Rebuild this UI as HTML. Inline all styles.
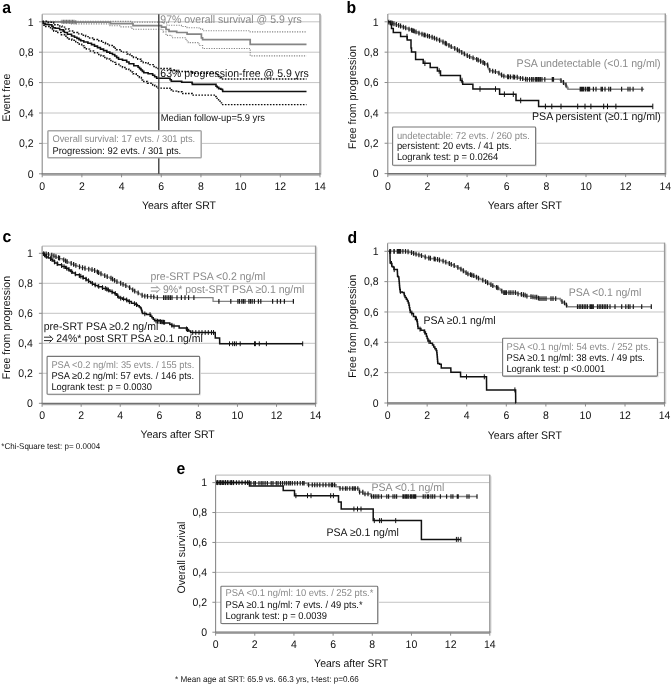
<!DOCTYPE html>
<html><head><meta charset="utf-8"><title>Kaplan-Meier figure</title>
<style>
html,body{margin:0;padding:0;background:#fff;}
body{width:672px;height:685px;overflow:hidden;}
svg{display:block;font-family:"Liberation Sans",sans-serif;text-rendering:geometricPrecision;will-change:transform;}
</style></head>
<body>
<svg width="672" height="685" viewBox="0 0 672 685">
<rect width="672" height="685" fill="#fff"/>
<line x1="42.2" y1="143.4" x2="320" y2="143.4" stroke="#c4c4c4" stroke-width="1" />
<line x1="42.2" y1="113" x2="320" y2="113" stroke="#c4c4c4" stroke-width="1" />
<line x1="42.2" y1="82.6" x2="320" y2="82.6" stroke="#c4c4c4" stroke-width="1" />
<line x1="42.2" y1="52.2" x2="320" y2="52.2" stroke="#c4c4c4" stroke-width="1" />
<line x1="42.2" y1="21.8" x2="320" y2="21.8" stroke="#c4c4c4" stroke-width="1" />
<line x1="42.2" y1="14.2" x2="320" y2="14.2" stroke="#c4c4c4" stroke-width="1.2" />
<line x1="321.2" y1="15.2" x2="321.2" y2="174.8" stroke="#dedede" stroke-width="1.2" />
<line x1="320" y1="13.7" x2="320" y2="173.8" stroke="#9a9a9a" stroke-width="1.4" />
<line x1="42.2" y1="14.2" x2="42.2" y2="174.3" stroke="#8a8a8a" stroke-width="1.1" />
<line x1="39" y1="173.8" x2="42.2" y2="173.8" stroke="#8a8a8a" stroke-width="1" />
<line x1="39" y1="143.4" x2="42.2" y2="143.4" stroke="#8a8a8a" stroke-width="1" />
<line x1="39" y1="113" x2="42.2" y2="113" stroke="#8a8a8a" stroke-width="1" />
<line x1="39" y1="82.6" x2="42.2" y2="82.6" stroke="#8a8a8a" stroke-width="1" />
<line x1="39" y1="52.2" x2="42.2" y2="52.2" stroke="#8a8a8a" stroke-width="1" />
<line x1="39" y1="21.8" x2="42.2" y2="21.8" stroke="#8a8a8a" stroke-width="1" />
<line x1="42.2" y1="175.1" x2="320" y2="175.1" stroke="#a8a8a8" stroke-width="1.1" />
<line x1="41.7" y1="173.8" x2="320.7" y2="173.8" stroke="#707070" stroke-width="1.3" />
<line x1="42.2" y1="173.8" x2="42.2" y2="177.3" stroke="#8a8a8a" stroke-width="1" />
<line x1="81.89" y1="173.8" x2="81.89" y2="177.3" stroke="#8a8a8a" stroke-width="1" />
<line x1="121.57" y1="173.8" x2="121.57" y2="177.3" stroke="#8a8a8a" stroke-width="1" />
<line x1="161.26" y1="173.8" x2="161.26" y2="177.3" stroke="#8a8a8a" stroke-width="1" />
<line x1="200.94" y1="173.8" x2="200.94" y2="177.3" stroke="#8a8a8a" stroke-width="1" />
<line x1="240.63" y1="173.8" x2="240.63" y2="177.3" stroke="#8a8a8a" stroke-width="1" />
<line x1="280.31" y1="173.8" x2="280.31" y2="177.3" stroke="#8a8a8a" stroke-width="1" />
<line x1="320" y1="173.8" x2="320" y2="177.3" stroke="#8a8a8a" stroke-width="1" />
<line x1="387.8" y1="143.24" x2="665.3" y2="143.24" stroke="#c4c4c4" stroke-width="1" />
<line x1="387.8" y1="112.88" x2="665.3" y2="112.88" stroke="#c4c4c4" stroke-width="1" />
<line x1="387.8" y1="82.52" x2="665.3" y2="82.52" stroke="#c4c4c4" stroke-width="1" />
<line x1="387.8" y1="52.16" x2="665.3" y2="52.16" stroke="#c4c4c4" stroke-width="1" />
<line x1="387.8" y1="21.8" x2="665.3" y2="21.8" stroke="#c4c4c4" stroke-width="1" />
<line x1="387.8" y1="14" x2="665.3" y2="14" stroke="#c4c4c4" stroke-width="1.2" />
<line x1="666.5" y1="15" x2="666.5" y2="174.6" stroke="#dedede" stroke-width="1.2" />
<line x1="665.3" y1="13.5" x2="665.3" y2="173.6" stroke="#9a9a9a" stroke-width="1.4" />
<line x1="387.8" y1="14" x2="387.8" y2="174.1" stroke="#8a8a8a" stroke-width="1.1" />
<line x1="384.6" y1="173.6" x2="387.8" y2="173.6" stroke="#8a8a8a" stroke-width="1" />
<line x1="384.6" y1="143.24" x2="387.8" y2="143.24" stroke="#8a8a8a" stroke-width="1" />
<line x1="384.6" y1="112.88" x2="387.8" y2="112.88" stroke="#8a8a8a" stroke-width="1" />
<line x1="384.6" y1="82.52" x2="387.8" y2="82.52" stroke="#8a8a8a" stroke-width="1" />
<line x1="384.6" y1="52.16" x2="387.8" y2="52.16" stroke="#8a8a8a" stroke-width="1" />
<line x1="384.6" y1="21.8" x2="387.8" y2="21.8" stroke="#8a8a8a" stroke-width="1" />
<line x1="387.8" y1="174.9" x2="665.3" y2="174.9" stroke="#a8a8a8" stroke-width="1.1" />
<line x1="387.3" y1="173.6" x2="666" y2="173.6" stroke="#707070" stroke-width="1.3" />
<line x1="387.8" y1="173.6" x2="387.8" y2="177.1" stroke="#8a8a8a" stroke-width="1" />
<line x1="427.44" y1="173.6" x2="427.44" y2="177.1" stroke="#8a8a8a" stroke-width="1" />
<line x1="467.09" y1="173.6" x2="467.09" y2="177.1" stroke="#8a8a8a" stroke-width="1" />
<line x1="506.73" y1="173.6" x2="506.73" y2="177.1" stroke="#8a8a8a" stroke-width="1" />
<line x1="546.37" y1="173.6" x2="546.37" y2="177.1" stroke="#8a8a8a" stroke-width="1" />
<line x1="586.01" y1="173.6" x2="586.01" y2="177.1" stroke="#8a8a8a" stroke-width="1" />
<line x1="625.66" y1="173.6" x2="625.66" y2="177.1" stroke="#8a8a8a" stroke-width="1" />
<line x1="665.3" y1="173.6" x2="665.3" y2="177.1" stroke="#8a8a8a" stroke-width="1" />
<line x1="42.1" y1="373.3" x2="315.6" y2="373.3" stroke="#c4c4c4" stroke-width="1" />
<line x1="42.1" y1="343.3" x2="315.6" y2="343.3" stroke="#c4c4c4" stroke-width="1" />
<line x1="42.1" y1="313.3" x2="315.6" y2="313.3" stroke="#c4c4c4" stroke-width="1" />
<line x1="42.1" y1="283.3" x2="315.6" y2="283.3" stroke="#c4c4c4" stroke-width="1" />
<line x1="42.1" y1="253.3" x2="315.6" y2="253.3" stroke="#c4c4c4" stroke-width="1" />
<line x1="42.1" y1="246.2" x2="315.6" y2="246.2" stroke="#c4c4c4" stroke-width="1.2" />
<line x1="316.8" y1="247.2" x2="316.8" y2="404.3" stroke="#dedede" stroke-width="1.2" />
<line x1="315.6" y1="245.7" x2="315.6" y2="403.3" stroke="#9a9a9a" stroke-width="1.4" />
<line x1="42.1" y1="246.2" x2="42.1" y2="403.8" stroke="#8a8a8a" stroke-width="1.1" />
<line x1="38.9" y1="403.3" x2="42.1" y2="403.3" stroke="#8a8a8a" stroke-width="1" />
<line x1="38.9" y1="373.3" x2="42.1" y2="373.3" stroke="#8a8a8a" stroke-width="1" />
<line x1="38.9" y1="343.3" x2="42.1" y2="343.3" stroke="#8a8a8a" stroke-width="1" />
<line x1="38.9" y1="313.3" x2="42.1" y2="313.3" stroke="#8a8a8a" stroke-width="1" />
<line x1="38.9" y1="283.3" x2="42.1" y2="283.3" stroke="#8a8a8a" stroke-width="1" />
<line x1="38.9" y1="253.3" x2="42.1" y2="253.3" stroke="#8a8a8a" stroke-width="1" />
<line x1="42.1" y1="404.6" x2="315.6" y2="404.6" stroke="#a8a8a8" stroke-width="1.1" />
<line x1="41.6" y1="403.3" x2="316.3" y2="403.3" stroke="#707070" stroke-width="1.3" />
<line x1="42.1" y1="403.3" x2="42.1" y2="406.8" stroke="#8a8a8a" stroke-width="1" />
<line x1="81.17" y1="403.3" x2="81.17" y2="406.8" stroke="#8a8a8a" stroke-width="1" />
<line x1="120.24" y1="403.3" x2="120.24" y2="406.8" stroke="#8a8a8a" stroke-width="1" />
<line x1="159.31" y1="403.3" x2="159.31" y2="406.8" stroke="#8a8a8a" stroke-width="1" />
<line x1="198.39" y1="403.3" x2="198.39" y2="406.8" stroke="#8a8a8a" stroke-width="1" />
<line x1="237.46" y1="403.3" x2="237.46" y2="406.8" stroke="#8a8a8a" stroke-width="1" />
<line x1="276.53" y1="403.3" x2="276.53" y2="406.8" stroke="#8a8a8a" stroke-width="1" />
<line x1="315.6" y1="403.3" x2="315.6" y2="406.8" stroke="#8a8a8a" stroke-width="1" />
<line x1="387.6" y1="372.66" x2="664.6" y2="372.66" stroke="#c4c4c4" stroke-width="1" />
<line x1="387.6" y1="342.32" x2="664.6" y2="342.32" stroke="#c4c4c4" stroke-width="1" />
<line x1="387.6" y1="311.98" x2="664.6" y2="311.98" stroke="#c4c4c4" stroke-width="1" />
<line x1="387.6" y1="281.64" x2="664.6" y2="281.64" stroke="#c4c4c4" stroke-width="1" />
<line x1="387.6" y1="251.3" x2="664.6" y2="251.3" stroke="#c4c4c4" stroke-width="1" />
<line x1="387.6" y1="243.2" x2="664.6" y2="243.2" stroke="#c4c4c4" stroke-width="1.2" />
<line x1="665.8" y1="244.2" x2="665.8" y2="404" stroke="#dedede" stroke-width="1.2" />
<line x1="664.6" y1="242.7" x2="664.6" y2="403" stroke="#9a9a9a" stroke-width="1.4" />
<line x1="387.6" y1="243.2" x2="387.6" y2="403.5" stroke="#8a8a8a" stroke-width="1.1" />
<line x1="384.4" y1="403" x2="387.6" y2="403" stroke="#8a8a8a" stroke-width="1" />
<line x1="384.4" y1="372.66" x2="387.6" y2="372.66" stroke="#8a8a8a" stroke-width="1" />
<line x1="384.4" y1="342.32" x2="387.6" y2="342.32" stroke="#8a8a8a" stroke-width="1" />
<line x1="384.4" y1="311.98" x2="387.6" y2="311.98" stroke="#8a8a8a" stroke-width="1" />
<line x1="384.4" y1="281.64" x2="387.6" y2="281.64" stroke="#8a8a8a" stroke-width="1" />
<line x1="384.4" y1="251.3" x2="387.6" y2="251.3" stroke="#8a8a8a" stroke-width="1" />
<line x1="387.6" y1="404.3" x2="664.6" y2="404.3" stroke="#a8a8a8" stroke-width="1.1" />
<line x1="387.1" y1="403" x2="665.3" y2="403" stroke="#707070" stroke-width="1.3" />
<line x1="387.6" y1="403" x2="387.6" y2="406.5" stroke="#8a8a8a" stroke-width="1" />
<line x1="427.17" y1="403" x2="427.17" y2="406.5" stroke="#8a8a8a" stroke-width="1" />
<line x1="466.74" y1="403" x2="466.74" y2="406.5" stroke="#8a8a8a" stroke-width="1" />
<line x1="506.31" y1="403" x2="506.31" y2="406.5" stroke="#8a8a8a" stroke-width="1" />
<line x1="545.89" y1="403" x2="545.89" y2="406.5" stroke="#8a8a8a" stroke-width="1" />
<line x1="585.46" y1="403" x2="585.46" y2="406.5" stroke="#8a8a8a" stroke-width="1" />
<line x1="625.03" y1="403" x2="625.03" y2="406.5" stroke="#8a8a8a" stroke-width="1" />
<line x1="664.6" y1="403" x2="664.6" y2="406.5" stroke="#8a8a8a" stroke-width="1" />
<line x1="215.6" y1="602.28" x2="489.8" y2="602.28" stroke="#c4c4c4" stroke-width="1" />
<line x1="215.6" y1="572.36" x2="489.8" y2="572.36" stroke="#c4c4c4" stroke-width="1" />
<line x1="215.6" y1="542.44" x2="489.8" y2="542.44" stroke="#c4c4c4" stroke-width="1" />
<line x1="215.6" y1="512.52" x2="489.8" y2="512.52" stroke="#c4c4c4" stroke-width="1" />
<line x1="215.6" y1="482.6" x2="489.8" y2="482.6" stroke="#c4c4c4" stroke-width="1" />
<line x1="215.6" y1="475.2" x2="489.8" y2="475.2" stroke="#c4c4c4" stroke-width="1.2" />
<line x1="491" y1="476.2" x2="491" y2="633.2" stroke="#dedede" stroke-width="1.2" />
<line x1="489.8" y1="474.7" x2="489.8" y2="632.2" stroke="#9a9a9a" stroke-width="1.4" />
<line x1="215.6" y1="475.2" x2="215.6" y2="632.7" stroke="#8a8a8a" stroke-width="1.1" />
<line x1="212.4" y1="632.2" x2="215.6" y2="632.2" stroke="#8a8a8a" stroke-width="1" />
<line x1="212.4" y1="602.28" x2="215.6" y2="602.28" stroke="#8a8a8a" stroke-width="1" />
<line x1="212.4" y1="572.36" x2="215.6" y2="572.36" stroke="#8a8a8a" stroke-width="1" />
<line x1="212.4" y1="542.44" x2="215.6" y2="542.44" stroke="#8a8a8a" stroke-width="1" />
<line x1="212.4" y1="512.52" x2="215.6" y2="512.52" stroke="#8a8a8a" stroke-width="1" />
<line x1="212.4" y1="482.6" x2="215.6" y2="482.6" stroke="#8a8a8a" stroke-width="1" />
<line x1="215.6" y1="633.5" x2="489.8" y2="633.5" stroke="#a8a8a8" stroke-width="1.1" />
<line x1="215.1" y1="632.2" x2="490.5" y2="632.2" stroke="#707070" stroke-width="1.3" />
<line x1="215.6" y1="632.2" x2="215.6" y2="635.7" stroke="#8a8a8a" stroke-width="1" />
<line x1="254.77" y1="632.2" x2="254.77" y2="635.7" stroke="#8a8a8a" stroke-width="1" />
<line x1="293.94" y1="632.2" x2="293.94" y2="635.7" stroke="#8a8a8a" stroke-width="1" />
<line x1="333.11" y1="632.2" x2="333.11" y2="635.7" stroke="#8a8a8a" stroke-width="1" />
<line x1="372.29" y1="632.2" x2="372.29" y2="635.7" stroke="#8a8a8a" stroke-width="1" />
<line x1="411.46" y1="632.2" x2="411.46" y2="635.7" stroke="#8a8a8a" stroke-width="1" />
<line x1="450.63" y1="632.2" x2="450.63" y2="635.7" stroke="#8a8a8a" stroke-width="1" />
<line x1="489.8" y1="632.2" x2="489.8" y2="635.7" stroke="#8a8a8a" stroke-width="1" />
<path d="M42.5 21.4H132V22.1H163.6V22.9H167V25.3H181.4V26.5H187.1V27.7H199V28.9H202.6V30.7H250.2V31.9H306.5V31.9" fill="none" stroke="#858585" stroke-width="1.1" stroke-dasharray="1.2 1.3"/>
<path d="M42.5 22.3H70V23.9H110V25.7H121V26.9H132V29.3H163V31.9H166V35.4H171.9V37.8H186V40.8H188.3V42.6H197.9V43.8H199V45.5H202.6V48.5H250.2V55.9H306.5V55.9" fill="none" stroke="#858585" stroke-width="1.1" stroke-dasharray="1.2 1.3"/>
<path d="M42.5 21.8H75V22.2H110.5V23.6H133V25.7H161.5V27.1H166V29.5H169V31.3H176.7V32.5H187.1V34.2H201.4V37.8H202.6V39.6H250.2V44.4H306.5V44.4" fill="none" stroke="#858585" stroke-width="1.7" />
<path d="M62 19.8V23.8M63.6 19.8V23.8M65 19.8V23.8M66.5 19.8V23.8M68 19.8V23.8M69.4 19.8V23.8M71 19.8V23.8M72.5 19.8V23.8M74 19.8V23.8M75.8 20.2V24.2" stroke="#6e6e6e" stroke-width="1.1" fill="none"/>
<path d="M42.5 21.3H47.2V22.3H51.9H53.7V24.7H55.5H57.85V25.9H60.2H62V27.1H63.8H65.3V28.9H66.8H69.15V31H71.5H73.6V32.5H75.7H77.68V33.87H81.65V35.23H85.62V36.6H87.6H89.58V38H93.55V39.4H97.52V40.8H99.5H101.48V42.37H105.45V43.93H109.42V45.5H111.4H112.35V46.9H114.25V48.3H116.15V49.7H117.1H121.3V52.1H125.5H126.97V53.9H129.93V55.7H131.4H133.5V57.45H137.7V59.2H139.8H140.98V61H143.32V62.8H144.5H148.1V64.6H151.7H153.17V66.55H156.12V68.5H157.6H169.5H170.75V70.2H172H176.7V71.4H181.4H192.5H192.75V73.3H193H215.7H216V74.8H216.3H217.8V76.6H219.3H220.05V77.8H221.55V79H222.3H306.5" fill="none" stroke="#111" stroke-width="1.45" stroke-dasharray="1.6 1.4"/>
<path d="M43 22.5H43.3V23.9H43.9V25.3H44.2H45.65V26.5H47.1H49.5V27.7H51.9H52.5V29.5H53.7V31.3H54.3H56.65V32.5H59H61.4V34.8H63.8H64.7V36.3H66.5V37.8H67.4H68.88V39H71.83V40.2H73.3H75.7V42.6H78.1H79.29V44.23H81.66V45.85H84.04V47.48H86.41V49.1H87.6H89.58V50.9H93.55V52.7H97.52V54.5H99.5H100.99V55.98H103.96V57.45H106.94V58.92H109.91V60.4H111.4H112.83V62.35H115.67V64.3H117.1H118.9V65.87H122.5V67.43H126.1V69H127.9H128.78V70.5H130.53V72H131.4H133V73.8H136.2V75.6H139.4V77.4H141H141.38V78.77H142.15V80.13H142.92V81.5H143.3H147.5V83.3H151.7H152.68V84.9H154.65V86.5H156.62V88.1H157.6H164.15V88.3H170.7H171V89.7H171.6V91.1H171.9H176.65V91.7H181.4H182V93.5H182.6H192H192.25V95.1H192.5H215.7H215.85V96.6H216.15V98.1H216.3H217.05V99.6H218.55V101.1H219.3H220.05V102.85H221.55V104.6H222.3H306.5" fill="none" stroke="#111" stroke-width="1.45" stroke-dasharray="1.6 1.4"/>
<path d="M42.5 21.8H43.35V23.5H44.2H45.1V24.4H46H48.65V24.7H51.3H51.9V26.2H53.1V27.7H53.7H55.2V28.3H56.7H59.65V29.8H62.6H63.2V31.15H64.4V32.5H65H67.4V34.2H69.8H71.55V36H73.3H74.5V37.2H76.9V38.4H78.1H79V39.6H80.8V40.8H81.7H83.78V42H87.92V43.2H90H91.5V44.65H94.5V46.1H96H97.47V47.6H100.43V49.1H101.9H103.55V50.6H106.85V52.1H108.5H109.83V53.3H112.47V54.5H113.8H114.75V56.07H116.65V57.63H118.55V59.2H119.5H122.5V60.3H125.5H126.67V62H129.02V63.7H130.2H133.8V65.8H137.4H138.11V67.2H139.53V68.6H140.95V70H142.37V71.4H143.79V72.8H144.5H148.1V73.8H151.7H152.68V75.3H154.65V76.8H156.62V78.3H157.6H169.5H170.1V79.75H171.3V81.2H171.9H181.4H181.7V82.2H182H191.9H192.05V83.3H192.35V84.4H192.5H215.7H216V86.2H216.3H217.2V87.4H218.1H218.7V88.6H219.3H220.8V89.2H222.3H222.45V90.35H222.75V91.5H222.9H306.5" fill="none" stroke="#111" stroke-width="1.6" />
<line x1="158.8" y1="14.2" x2="158.8" y2="173.8" stroke="#333" stroke-width="1.3" />
<text transform="translate(160.3 22.7) scale(1 1.05)" font-size="10.5" fill="#8a8a8a" text-anchor="start" font-weight="normal" >97% overall survival @ 5.9 yrs</text>
<text transform="translate(160.3 77) scale(1 1.05)" font-size="10.5" fill="#111" text-anchor="start" font-weight="normal" >63% progression-free @ 5.9 yrs</text>
<text transform="translate(160.8 121) scale(1 1.05)" font-size="9.35" fill="#111" text-anchor="start" font-weight="normal" >Median follow-up=5.9 yrs</text>
<rect x="47.9" y="130.8" width="153.3" height="27" fill="#fff" stroke="#a8a8a8" stroke-width="1.5" rx="0.8"/>
<text transform="translate(52.4 142.3) scale(1 1.05)" font-size="9.35" fill="#8a8a8a" text-anchor="start" font-weight="normal" >Overall survival: 17 evts. / 301 pts.</text>
<text transform="translate(52.4 153.5) scale(1 1.05)" font-size="9.35" fill="#111" text-anchor="start" font-weight="normal" >Progression: 92 evts. / 301 pts.</text>
<path d="M388 21.8H389.48V22.77H392.45V23.73H395.42V24.7H396.9H398.39V25.77H401.36V26.85H404.34V27.93H407.31V29H408.8H409.99V29.96H412.37V30.92H414.75V31.88H417.13V32.84H419.51V33.8H420.7H422.19V34.7H425.16V35.6H428.14V36.5H431.11V37.4H432.6H433.83V38.4H436.3V39.4H438.77V40.4H440H441V41.47H443V42.53H445V43.6H446H446.98V44.73H448.95V45.87H450.92V47H451.9H452.9V48H454.9V49H456.9V50H457.9H458.64V50.88H460.11V51.75H461.59V52.62H463.06V53.5H463.8H464.7V54.6H466.5V55.7H467.4H468.74V56.78H471.41V57.85H474.09V58.92H476.76V60H478.1H479.05V60.96H480.95V61.92H482.85V62.88H484.75V63.84H486.65V64.8H487.6H487.72V65.87H487.95V66.93H488.18V68H488.3H488.58V68.9H489.15V69.8H489.72V70.7H490H493.55V71.9H497.1H497.85V72.95H499.35V74H500.85V75.05H502.35V76.1H503.1H505.85V76.9H508.6H512.75V77.1H516.9H518.1V78.1H519.3H522.85V79.3H526.4H560H560.3V80.05H560.9V80.8H561.2H561.8V81.7H563V82.6H563.6H564.2V83.8H565.4V85H566H566.29V86.05H566.86V87.1H567.44V88.15H568.01V89.2H568.3H644.1" fill="none" stroke="#858585" stroke-width="1.6" />
<path d="M388.82 19.67V24.47M390.84 20.33V25.13M392.26 20.79V25.59M393.92 21.33V26.13M396.33 22.11V26.91M398.64 22.93V27.73M400.56 23.62V28.42M403.35 24.63V29.43M405.7 25.48V30.28M408.99 26.68V31.48M411.59 27.72V32.52M412.95 28.27V33.07M414.21 28.78V33.58M416 29.5V34.3M418.94 30.69V35.49M421.98 31.79V36.59M424.04 32.41V37.21M425.07 32.72V37.52M427.49 33.45V38.25M429.39 34.03V38.83M432.12 34.86V39.66M434.46 35.76V40.56M436.74 36.68V41.48M439.59 37.83V42.63M442.99 39.59V44.39M445.21 40.78V45.58M446.28 41.36V46.16M448.96 42.9V47.7M451.24 44.22V49.02M454.72 46.01V50.81M457.4 47.35V52.15M459.25 48.4V53.2M461.75 49.88V54.68M464.33 51.42V56.22M467.3 53.24V58.04M469.64 54.2V59M473.06 55.57V60.37M476.67 57.03V61.83M478.2 57.65V62.45M480.6 58.87V63.67M483.09 60.12V64.92M484.6 60.88V65.68M487.64 62.58V67.38M489.79 67.97V72.77M492.67 68.75V73.55M495.45 69.22V74.02M498.92 70.78V75.58M501.55 72.62V77.42M503.87 73.81V78.61M507.68 74.37V79.17M508.59 74.5V79.3M510.51 74.55V79.35M513.25 74.61V79.41M514.59 74.64V79.44M517.2 74.83V79.63M520.34 75.88V80.68M522.71 76.28V81.08M525.53 76.75V81.55M527.24 76.9V81.7M529.57 76.9V81.7M531.65 76.9V81.7M533.2 76.9V81.7M535.29 76.9V81.7M536.56 76.9V81.7M537.99 76.9V81.7M538.95 76.9V81.7M540.33 76.9V81.7M541.96 76.9V81.7M544.81 76.9V81.7M552.3 76.9V81.7M553.5 76.9V81.7M561 78.15V82.95M563.5 80.12V84.92M566 82.6V87.4M580.2 86.8V91.6M581.4 86.8V91.6M582.6 86.8V91.6M583.8 86.8V91.6M585.6 86.8V91.6M587.4 86.8V91.6M588.6 86.8V91.6M589.6 86.8V91.6M593.4 86.8V91.6M596 86.8V91.6M601.1 86.8V91.6M602.4 86.8V91.6M605 86.8V91.6M608.8 86.8V91.6M610.6 86.8V91.6M621.6 86.8V91.6M628 86.8V91.6M630 86.8V91.6M633.1 86.8V91.6M642 86.8V91.6" stroke="#1a1a1a" stroke-width="1.2" fill="none"/>
<path d="M388 21.8H390.4V24.6H391.5V28.6H393.3V32.6H400.6V36.6H407.2V39.9H411V47.9H411.5V51.9H415.6V59.6H423.2V63.3H430.2V67.4H437.4V71H440.5V75.5H460.4V80.5H462.1V81.7H462.7V84.3H472.9V89H499.6V94.2H516V100.5H538.6V106.4H652.8V106.4" fill="none" stroke="#111" stroke-width="1.5" />
<path d="M407 33.85V39.35M424.9 60.55V66.05M439.2 68.25V73.75M462 77.75V83.25M480 86.25V91.75M495.5 86.25V91.75M504.4 91.45V96.95M513.3 91.45V96.95M520.7 97.75V103.25M545.4 103.65V109.15M551.8 103.65V109.15M561 103.65V109.15M577.7 103.65V109.15M585 103.65V109.15M590.9 103.65V109.15M603.7 103.65V109.15M607.5 103.65V109.15M615.9 103.65V109.15M652.8 103.65V109.15" stroke="#111" stroke-width="1" fill="none"/>
<text transform="translate(516.6 66.6) scale(1 1.05)" font-size="10.6" fill="#8a8a8a" text-anchor="start" font-weight="normal" >PSA undetectable (&lt;0.1 ng/ml)</text>
<text transform="translate(532 120.4) scale(1 1.05)" font-size="10.6" fill="#111" text-anchor="start" font-weight="normal" >PSA persistent (≥0.1 ng/ml)</text>
<rect x="393.8" y="128.2" width="143" height="38.3" fill="#e2e2e2"/>
<rect x="392.6" y="127" width="143" height="38.3" fill="#fff" stroke="#767676" stroke-width="1.1" rx="0.8"/>
<text transform="translate(396.9 138.5) scale(1 1.05)" font-size="9.4" fill="#8a8a8a" text-anchor="start" font-weight="normal" >undetectable: 72 evts. / 260 pts.</text>
<text transform="translate(396.9 149.2) scale(1 1.05)" font-size="9.4" fill="#111" text-anchor="start" font-weight="normal" >persistent: 20 evts. / 41 pts.</text>
<text transform="translate(396.9 159.9) scale(1 1.05)" font-size="9.4" fill="#111" text-anchor="start" font-weight="normal" >Logrank test: p = 0.0264</text>
<path d="M42.4 253.3H44.77V254.2H49.52V255.1H51.9H53.4V256.3H56.4V257.5H57.9H59.38V258.7H62.32V259.9H63.8H64.8V260.9H66.8V261.9H68.8V262.9H69.8H71.28V264.1H74.22V265.3H75.7H77.2V266.45H80.2V267.6H81.7H84.65V268.8H87.6H90.6V270H93.6H94.58V271H96.55V272H98.52V273H99.5H100.5V274H102.5V275H104.5V276H105.5H106.97V277.2H109.93V278.4H111.4H112.17V279.33H113.7V280.27H115.23V281.2H116H116.98V282.07H118.95V282.93H120.92V283.8H121.9H122.9V284.7H124.9V285.6H126.9V286.5H127.9H128.64V287.52H130.11V288.55H131.59V289.58H133.06V290.6H133.8H134.8V291.67H136.8V292.73H138.8V293.8H139.8H140.68V294.9H142.43V296H143.3H147.5V296.6H151.7H154.65V297.6H157.6H213H213.01V298.55H213.04V299.5H213.06V300.45H213.09V301.4H213.1H293.8" fill="none" stroke="#858585" stroke-width="1.3" />
<path d="M43.75 251.16V255.96M46.15 251.61V256.41M48.41 252.04V256.84M51.76 252.67V257.47M53.97 253.53V258.33M55.95 254.32V259.12M58.54 255.36V260.16M59.59 255.79V260.59M63.74 257.47V262.27M65.58 258.39V263.19M67.13 259.16V263.96M71.17 261.06V265.86M73.63 262.06V266.86M75.86 262.96V267.76M79.46 264.34V269.14M82.51 265.37V270.17M85 265.87V270.67M88.75 266.63V271.43M92.03 267.29V272.09M94.61 268.11V272.91M97.4 269.53V274.33M98.64 270.16V274.96M101 271.35V276.15M104.75 273.23V278.03M107.24 274.31V279.11M110.98 275.83V280.63M112.57 276.71V281.51M114.55 277.92V282.72M116.94 279.21V284.01M120.68 280.86V285.66M123.07 281.93V286.73M125.8 283.16V287.96M129.62 285.29V290.09M132.72 287.45V292.25M134.72 288.69V293.49M138.15 290.52V295.32M142.1 292.85V297.65M144.8 293.71V298.51M147.5 293.9V298.7M151 294.15V298.95M153.75 294.55V299.35M157.3 295.15V299.95M163.6 295.2V300M165.3 295.2V300M167 295.2V300M168.7 295.2V300M170.4 295.2V300M172 295.2V300M177 295.2V300M181.4 295.2V300M185 295.2V300M188.6 295.2V300M193.9 295.2V300M218.9 299V303.8M230.8 299V303.8M237.9 299V303.8M239.5 299V303.8M241.8 299V303.8M243.4 299V303.8M245 299V303.8M248.9 299V303.8M250.5 299V303.8M252.2 299V303.8M254.4 299V303.8M258.4 299V303.8M260.8 299V303.8M272.6 299V303.8M277.3 299V303.8M280.5 299V303.8M284.4 299V303.8M293.4 299V303.8" stroke="#1a1a1a" stroke-width="1.2" fill="none"/>
<path d="M42.4 253.3H43.58V255.1H45.92V256.9H47.1H48.3V258.1H50.7V259.3H51.9H52.8V261.1H54.6V262.9H55.5H57.58V264.7H61.72V266.5H63.8H65.3V268.25H68.3V270H69.8H70.67V271.5H72.42V273H73.3H75.4V274.8H79.6V276.6H81.7H83.17V278.35H86.12V280.1H87.6H88.6V281.5H90.6V282.9H92.6V284.3H93.6H95.07V285.5H98.03V286.7H99.5H102.5V288.5H105.5H106.97V290H109.93V291.5H111.4H112.55V292.65H114.85V293.8H116H116.58V295.2H117.75V296.6H118.92V298H119.5H122.5V299.2H125.5H126.38V300.35H128.12V301.5H129H131.4V303.3H133.8H135V304.5H137.4V305.7H138.6H139.2V306.9H140.4V308.1H141H141.21V309.45H141.64V310.8H142.06V312.15H142.49V313.5H142.7H146.35V314.6H150H150.65V316.15H151.95V317.7H153.25V319.25H154.55V320.8H155.2H161.97V323H168.75H169.79V324.5H171.86V326H172.9H179.15V328.1H185.4H186.45V329.57H188.55V331.03H190.65V332.5H191.7H215.2H215.21V333.85H215.24V335.2H215.26V336.55H215.29V337.9H215.3H219.6H219.61V339.36H219.64V340.82H219.66V342.29H219.69V343.75H219.7H302.7" fill="none" stroke="#111" stroke-width="1.5" />
<path d="M44.47 252.49V257.29M46.39 253.95V258.75M50.49 256.19V260.99M51.85 256.87V261.67M54.54 259.54V264.34M57.23 261.25V266.05M61.55 263.13V267.93M64.02 264.23V269.03M66.65 265.76V270.56M69.08 267.18V271.98M71.72 269.24V274.04M75.37 271.49V276.29M79.36 273.2V278M80.84 273.83V278.63M83.07 275.02V279.82M86.03 276.77V281.57M88.44 278.29V283.09M92.35 281.02V285.82M95.21 282.56V287.36M98.72 283.98V288.78M102.51 285.2V290M105.34 286.05V290.85M106.86 286.79V291.59M108.41 287.58V292.38M112.01 289.41V294.21M115.23 291.02V295.82M117.69 293.43V298.23M120.7 295.84V300.64M123.64 296.43V301.23M126.66 297.56V302.36M129.39 299.25V304.05M134.4 301.2V306M136.5 302.25V307.05M144.8 311.42V316.22M150 312.2V317M156 318.53V323.33M157.5 318.77V323.57M159 319.02V323.82M160.5 319.26V324.06M162 319.5V324.3M163.5 319.75V324.55M164.6 319.93V324.73M171.9 322.88V327.68M174 323.78V328.58M186.5 326.47V331.27M187.5 327.17V331.97M192.7 330.1V334.9M195.8 330.1V334.9M199 330.1V334.9M202 330.1V334.9M205.2 330.1V334.9M208.3 330.1V334.9M211.5 330.1V334.9M213.5 330.1V334.9M229.5 341.35V346.15M232.7 341.35V346.15M234.5 341.35V346.15M236.25 341.35V346.15M240.2 341.35V346.15M254.5 341.35V346.15M255.4 341.35V346.15M259.3 341.35V346.15M266.4 341.35V346.15M302.7 341.35V346.15" stroke="#111" stroke-width="1" fill="none"/>
<text transform="translate(150.5 280.4) scale(1 1.05)" font-size="10.5" fill="#8a8a8a" text-anchor="start" font-weight="normal" >pre-SRT PSA &lt;0.2 ng/ml</text>
<path d="M150.8 287.7H157.9 M150.8 291.1H157.9 M156.3 285.8L159.8 289.4L156.3 293" fill="none" stroke="#8a8a8a" stroke-width="0.9"/>
<text transform="translate(163 292.7) scale(1 1.05)" font-size="10.5" fill="#8a8a8a" text-anchor="start" font-weight="normal" >9%* post-SRT PSA ≥0.1 ng/ml</text>
<text transform="translate(43.7 329.8) scale(1 1.05)" font-size="10.5" fill="#111" text-anchor="start" font-weight="normal" >pre-SRT PSA ≥0.2 ng/ml</text>
<path d="M44 337.2H51.1 M44 340.6H51.1 M49.5 335.3L53 338.9L49.5 342.5" fill="none" stroke="#111" stroke-width="0.9"/>
<text transform="translate(56.2 342.1) scale(1 1.05)" font-size="10.5" fill="#111" text-anchor="start" font-weight="normal" >24%* post SRT PSA ≥0.1 ng/ml</text>
<rect x="48.3" y="357.6" width="152.5" height="37.8" fill="#e2e2e2"/>
<rect x="47.1" y="356.4" width="152.5" height="37.8" fill="#fff" stroke="#767676" stroke-width="1.1" rx="0.8"/>
<text transform="translate(51.4 368.2) scale(1 1.05)" font-size="9.3" fill="#8a8a8a" text-anchor="start" font-weight="normal" >PSA &lt;0.2 ng/ml: 35 evts. / 155 pts.</text>
<text transform="translate(51.4 378.9) scale(1 1.05)" font-size="9.3" fill="#111" text-anchor="start" font-weight="normal" >PSA ≥0.2 ng/ml: 57 evts. / 146 pts.</text>
<text transform="translate(51.4 390) scale(1 1.05)" font-size="9.3" fill="#111" text-anchor="start" font-weight="normal" >Logrank test: p = 0.0030</text>
<text transform="translate(1.3 449.4) scale(1 1.05)" font-size="8" fill="#111" text-anchor="start" font-weight="normal" >*Chi-Square test: p= 0.0004</text>
<path d="M388 251.3H405.8H406.55V251.6H407.3H409.15V252.4H411H411.95V253.15H413.85V253.9H414.8H416.65V254.7H418.5H420.35V255.8H422.2H423.12V256.55H424.97V257.3H425.9H426.5V257.7H427.1H429.8V258.6H435.2V259.5H437.9H439.38V260.4H442.32V261.3H443.8H445.3V262.5H448.3V263.7H449.8H451.27V264.9H454.23V266.1H455.7H456.45V266.98H457.95V267.85H459.45V268.73H460.95V269.6H461.7H462.44V270.65H463.91V271.7H465.39V272.75H466.86V273.8H467.6H469.1V274.7H472.1V275.6H473.6H474.58V276.6H476.55V277.6H478.52V278.6H479.5H480.5V279.57H482.5V280.53H484.5V281.5H485.5H486.24V282.38H487.71V283.25H489.19V284.12H490.66V285H491.4H492.3V285.75H494.1V286.5H495H496.25V287.75H498.75V289H500H500.52V290.2H501.58V291.4H502.1H502.7V292.6H503.3H516.4H517V293.8H517.6H521.2V295H524.8H525.95V296.2H527.1H532.5V297.4H537.9H538.45V298.6H539H559.9H560.2V299.57H560.8V300.53H561.4V301.5H561.7H562.58V302.4H564.33V303.3H565.2H565.6V304.43H566.4V305.57H567.2V306.7H567.6H651.7" fill="none" stroke="#858585" stroke-width="1.6" />
<path d="M389.8 248.9V253.7M390.6 248.9V253.7M393.9 248.9V253.7M394.3 248.9V253.7M397.3 248.9V253.7M398 248.9V253.7M398.8 248.9V253.7M399.9 248.9V253.7M400.6 248.9V253.7M402.9 248.9V253.7M405.5 248.9V253.7M408.06 249.36V254.16M411.49 250.2V255M413.59 251.02V255.82M416.02 251.76V256.56M418.9 252.42V257.22M421.52 253.2V258M425.21 254.62V259.42M428.79 255.58V260.38M430.41 255.85V260.65M434.16 256.48V261.28M435.18 256.65V261.45M437.53 257.04V261.84M439.49 257.58V262.38M443.09 258.68V263.48M445.83 259.71V264.51M449.33 261.11V265.91M451.3 261.91V266.71M454.16 263.08V267.88M457.84 264.95V269.75M460.92 266.75V271.55M463.33 268.36V273.16M466.06 270.3V275.1M467.91 271.49V276.29M470.57 272.29V277.09M471.88 272.68V277.48M473.74 273.27V278.07M476.5 274.67V279.47M478.49 275.68V280.48M482.78 277.78V282.58M485.63 279.18V283.98M487.58 280.33V285.13M490.93 282.32V287.12M492.81 283.19V287.99M496.61 284.91V289.71M497.94 285.57V290.37M501.79 288.64V293.44M503.84 290.2V295M505.12 290.2V295M506.44 290.2V295M508.98 290.2V295M510.87 290.2V295M513.06 290.2V295M515.42 290.2V295M518.04 291.47V296.27M521.4 292.03V296.83M523.4 292.37V297.17M525.1 292.76V297.56M526.92 293.7V298.5M531 294.23V299.03M533 294.46V299.26M535 294.68V299.48M536.7 294.87V299.67M538.5 295.65V300.45M540 296.2V301M542 296.2V301M544 296.2V301M546 296.2V301M551 296.2V301M553 296.2V301M555.7 296.2V301M562 299.25V304.05M564.5 300.54V305.34M566.5 302.74V307.54M577.5 304.3V309.1M579.2 304.3V309.1M580.8 304.3V309.1M582.5 304.3V309.1M584.2 304.3V309.1M585.8 304.3V309.1M587.5 304.3V309.1M590 304.3V309.1M591 304.3V309.1M592 304.3V309.1M593.3 304.3V309.1M597.5 304.3V309.1M599.2 304.3V309.1M600.8 304.3V309.1M602.5 304.3V309.1M604.2 304.3V309.1M605.8 304.3V309.1M607.5 304.3V309.1M610 304.3V309.1M615 304.3V309.1M621.7 304.3V309.1M625.8 304.3V309.1M628.3 304.3V309.1M630 304.3V309.1M633.3 304.3V309.1M641.7 304.3V309.1M651.3 304.3V309.1" stroke="#1a1a1a" stroke-width="1.2" fill="none"/>
<path d="M388.8 251.3H389.9H389.93V253.62H389.99V255.94H390.05V258.26H390.11V260.58H390.17V262.9H390.2H390.95V263.6H391.7H391.9V266.6H392.1H393V267H393.9H393.95V269.6H394H397.3H397.35V271.83H397.45V274.07H397.55V276.3H397.6H398.2V277H398.8H398.89V279.1H399.07V281.2H399.26V283.3H399.44V285.4H399.62V287.5H399.81V289.6H399.9H400.25V292.1H400.6H402.25V292.4H403.9H404.05V294.05H404.35V295.7H404.5H405.1V297.5H406.3V299.3H406.9H407.35V301.1H408.25V302.9H408.7H408.93V305.27H409.38V307.65H409.82V310.02H410.27V312.4H410.5H411.7V313.6H412.9H413.45V316.5H414H415.5V319.5H417H417.15V321.75H417.45V324H417.75V326.25H418.05V328.5H418.2H420.9V330.2H423.6H424.2V332H425.4V333.8H426H426.38V336.2H427.15V338.6H427.92V341H428.3H430.1V343.3H431.9H432.5V345.1H433.7V346.9H434.3H434.9V348.7H436.1V350.5H436.7H436.8V352.68H437V354.87H437.2V357.05H437.4V359.23H437.6V361.42H437.8V363.6H437.9H439.55V364.2H441.2H441.23V366.05H441.27V367.9H441.3H450.8H450.82V370.1H450.88V372.3H450.9H460.5H460.52V374.55H460.58V376.8H460.6H486.5H486.51V378.98H486.52V381.17H486.54V383.35H486.56V385.53H486.58V387.72H486.59V389.9H486.6H515.6H515.61V392.08H515.62V394.27H515.64V396.45H515.66V398.63H515.68V400.82H515.69V403H515.7" fill="none" stroke="#111" stroke-width="1.5" />
<path d="M391.5 261.01V266.01M394.2 267.1V272.1M400.4 288.89V293.89M411.8 310.55V315.55M416.5 316.5V321.5M420 326.57V331.57M424.8 329.5V334.5M428.9 338.88V343.88M466.5 374.3V379.3M484.3 374.3V379.3M514.9 387.4V392.4" stroke="#111" stroke-width="1" fill="none"/>
<text transform="translate(568.7 295.8) scale(1 1.05)" font-size="10.5" fill="#8a8a8a" text-anchor="start" font-weight="normal" >PSA &lt;0.1 ng/ml</text>
<text transform="translate(423.4 323.5) scale(1 1.05)" font-size="10.5" fill="#111" text-anchor="start" font-weight="normal" >PSA ≥0.1 ng/ml</text>
<rect x="503.8" y="339.4" width="154.8" height="37.9" fill="#e2e2e2"/>
<rect x="502.6" y="338.2" width="154.8" height="37.9" fill="#fff" stroke="#767676" stroke-width="1.1" rx="0.8"/>
<text transform="translate(506.4 349.8) scale(1 1.05)" font-size="9.4" fill="#8a8a8a" text-anchor="start" font-weight="normal" >PSA &lt;0.1 ng/ml: 54 evts. / 252 pts.</text>
<text transform="translate(506.4 360.6) scale(1 1.05)" font-size="9.4" fill="#111" text-anchor="start" font-weight="normal" >PSA ≥0.1 ng/ml: 38 evts. / 49 pts.</text>
<text transform="translate(506.4 371.9) scale(1 1.05)" font-size="9.4" fill="#111" text-anchor="start" font-weight="normal" >Logrank test: p &lt;0.0001</text>
<path d="M216 482.6H250V483.3H307.5V484.9H336.1V486.7H339.6V488.5H359.3V492.1H362.9V493.9H370.7V496.5H477V496.5" fill="none" stroke="#858585" stroke-width="1.6" />
<path d="M216.85 480.3V484.9M219.13 480.3V484.9M220.82 480.3V484.9M222.37 480.3V484.9M223.65 480.3V484.9M225.38 480.3V484.9M227.36 480.3V484.9M230.22 480.3V484.9M231.65 480.3V484.9M233.57 480.3V484.9M236.46 480.3V484.9M239.02 480.3V484.9M242.01 480.3V484.9M245.27 480.3V484.9M247.61 480.3V484.9M249.33 480.3V484.9M250.92 481V485.6M253.86 481V485.6M255.37 481V485.6M258.98 481V485.6M261.16 481V485.6M262.96 481V485.6M265.09 481V485.6M267.37 481V485.6M271.17 481V485.6M272.99 481V485.6M276.27 481V485.6M278.05 481V485.6M280.5 481V485.6M282.6 481V485.6M284.76 481V485.6M286.67 481V485.6M288.75 481V485.6M290.32 481V485.6M292.33 481V485.6M294.83 481V485.6M297.42 481V485.6M300.22 481V485.6M302.66 481V485.6M304.07 481V485.6M308.64 482.6V487.2M312.29 482.6V487.2M314.72 482.6V487.2M317.18 482.6V487.2M319.82 482.6V487.2M323.04 482.6V487.2M325.82 482.6V487.2M328.98 482.6V487.2M331.32 482.6V487.2M332.62 482.6V487.2M334.63 482.6V487.2M340.05 486.2V490.8M342.78 486.2V490.8M345.46 486.2V490.8M347.09 486.2V490.8M349.79 486.2V490.8M352.4 486.2V490.8M353.98 486.2V490.8M355.35 486.2V490.8M357.8 486.2V490.8M359.62 489.8V494.4M362.82 489.8V494.4M364.98 491.6V496.2M368.01 491.6V496.2M371.6 494.2V498.8M373.5 494.2V498.8M375.2 494.2V498.8M377 494.2V498.8M378.75 494.2V498.8M381.4 494.2V498.8M386.8 494.2V498.8M388.6 494.2V498.8M393 494.2V498.8M394.8 494.2V498.8M396.6 494.2V498.8M402.96 494.2V498.8M403.76 494.2V498.8M405.24 494.2V498.8M406.49 494.2V498.8M407.2 494.2V498.8M408.71 494.2V498.8M410.54 494.2V498.8M411.77 494.2V498.8M413.28 494.2V498.8M414.51 494.2V498.8M415.71 494.2V498.8M423.21 494.2V498.8M425.15 494.2V498.8M427.35 494.2V498.8M428.61 494.2V498.8M430.93 494.2V498.8M432.7 494.2V498.8M434.74 494.2V498.8M440.4 494.2V498.8M446.6 494.2V498.8M451 494.2V498.8M452.9 494.2V498.8M457.3 494.2V498.8M458.2 494.2V498.8M467 494.2V498.8M469 494.2V498.8M477 494.2V498.8" stroke="#1a1a1a" stroke-width="1.2" fill="none"/>
<path d="M216 482.6H249.5V486H283.2V490.5H294.5V495.7H338.5V502H341.2V509H373.2V520.6H421.4V539.4H460.9V539.4" fill="none" stroke="#111" stroke-width="1.5" />
<path d="M217.6 480.1V485.1M220.3 480.1V485.1M225.5 480.1V485.1M228 480.1V485.1M231.2 480.1V485.1M233.3 480.1V485.1M295.9 493.2V498.2M307.5 493.2V498.2M311 493.2V498.2M330.7 493.2V498.2M333.4 493.2V498.2M353.9 506.5V511.5M357.5 506.5V511.5M361 506.5V511.5M374.3 518.1V523.1M379.6 518.1V523.1M381.4 518.1V523.1M395.7 518.1V523.1M456.4 536.9V541.9M458.2 536.9V541.9M460.9 536.9V541.9" stroke="#111" stroke-width="1" fill="none"/>
<text transform="translate(371.6 491.2) scale(1 1.05)" font-size="10.5" fill="#8a8a8a" text-anchor="start" font-weight="normal" >PSA &lt;0.1 ng/ml</text>
<text transform="translate(326.6 535.5) scale(1 1.05)" font-size="10.5" fill="#111" text-anchor="start" font-weight="normal" >PSA ≥0.1 ng/ml</text>
<rect x="222.1" y="587.5" width="156.8" height="37.2" fill="#e2e2e2"/>
<rect x="220.9" y="586.3" width="156.8" height="37.2" fill="#fff" stroke="#767676" stroke-width="1.1" rx="0.8"/>
<text transform="translate(225.6 596) scale(1 1.05)" font-size="9.4" fill="#8a8a8a" text-anchor="start" font-weight="normal" >PSA &lt;0.1 ng/ml: 10 evts. / 252 pts.*</text>
<text transform="translate(225.6 607.6) scale(1 1.05)" font-size="9.4" fill="#111" text-anchor="start" font-weight="normal" >PSA ≥0.1 ng/ml: 7 evts. / 49 pts.*</text>
<text transform="translate(225.6 619) scale(1 1.05)" font-size="9.4" fill="#111" text-anchor="start" font-weight="normal" >Logrank test: p = 0.0039</text>
<text transform="translate(175 682) scale(1 1.05)" font-size="8.1" fill="#111" text-anchor="start" font-weight="normal" >* Mean age at SRT: 65.9 vs. 66.3 yrs, t-test: p=0.66</text>
<text transform="translate(33.6 177.5) scale(1 1.05)" font-size="10.5" fill="#111" text-anchor="end" font-weight="normal" >0</text>
<text transform="translate(33.6 147.1) scale(1 1.05)" font-size="10.5" fill="#111" text-anchor="end" font-weight="normal" >0,2</text>
<text transform="translate(33.6 116.7) scale(1 1.05)" font-size="10.5" fill="#111" text-anchor="end" font-weight="normal" >0,4</text>
<text transform="translate(33.6 86.3) scale(1 1.05)" font-size="10.5" fill="#111" text-anchor="end" font-weight="normal" >0,6</text>
<text transform="translate(33.6 55.9) scale(1 1.05)" font-size="10.5" fill="#111" text-anchor="end" font-weight="normal" >0,8</text>
<text transform="translate(33.6 25.5) scale(1 1.05)" font-size="10.5" fill="#111" text-anchor="end" font-weight="normal" >1</text>
<text transform="translate(42.2 189.9) scale(1 1.05)" font-size="10.5" fill="#111" text-anchor="middle" font-weight="normal" >0</text>
<text transform="translate(81.89 189.9) scale(1 1.05)" font-size="10.5" fill="#111" text-anchor="middle" font-weight="normal" >2</text>
<text transform="translate(121.57 189.9) scale(1 1.05)" font-size="10.5" fill="#111" text-anchor="middle" font-weight="normal" >4</text>
<text transform="translate(161.26 189.9) scale(1 1.05)" font-size="10.5" fill="#111" text-anchor="middle" font-weight="normal" >6</text>
<text transform="translate(200.94 189.9) scale(1 1.05)" font-size="10.5" fill="#111" text-anchor="middle" font-weight="normal" >8</text>
<text transform="translate(240.63 189.9) scale(1 1.05)" font-size="10.5" fill="#111" text-anchor="middle" font-weight="normal" >10</text>
<text transform="translate(280.31 189.9) scale(1 1.05)" font-size="10.5" fill="#111" text-anchor="middle" font-weight="normal" >12</text>
<text transform="translate(320 189.9) scale(1 1.05)" font-size="10.5" fill="#111" text-anchor="middle" font-weight="normal" >14</text>
<text transform="translate(141.9 208.8) scale(1 1.05)" font-size="10.5" fill="#111" text-anchor="start" font-weight="normal" >Years after SRT</text>
<text x="0" y="0" font-size="10.5" fill="#111" text-anchor="middle" transform="translate(10 97.6) rotate(-90) scale(1 1.05)">Event free</text>
<text transform="translate(2.2 13.2) scale(1 1.05)" font-size="15.8" fill="#000" text-anchor="start" font-weight="bold" >a</text>
<text transform="translate(378.6 177.3) scale(1 1.05)" font-size="10.5" fill="#111" text-anchor="end" font-weight="normal" >0</text>
<text transform="translate(378.6 146.94) scale(1 1.05)" font-size="10.5" fill="#111" text-anchor="end" font-weight="normal" >0,2</text>
<text transform="translate(378.6 116.58) scale(1 1.05)" font-size="10.5" fill="#111" text-anchor="end" font-weight="normal" >0,4</text>
<text transform="translate(378.6 86.22) scale(1 1.05)" font-size="10.5" fill="#111" text-anchor="end" font-weight="normal" >0,6</text>
<text transform="translate(378.6 55.86) scale(1 1.05)" font-size="10.5" fill="#111" text-anchor="end" font-weight="normal" >0,8</text>
<text transform="translate(378.6 25.5) scale(1 1.05)" font-size="10.5" fill="#111" text-anchor="end" font-weight="normal" >1</text>
<text transform="translate(387.8 189.8) scale(1 1.05)" font-size="10.5" fill="#111" text-anchor="middle" font-weight="normal" >0</text>
<text transform="translate(427.44 189.8) scale(1 1.05)" font-size="10.5" fill="#111" text-anchor="middle" font-weight="normal" >2</text>
<text transform="translate(467.09 189.8) scale(1 1.05)" font-size="10.5" fill="#111" text-anchor="middle" font-weight="normal" >4</text>
<text transform="translate(506.73 189.8) scale(1 1.05)" font-size="10.5" fill="#111" text-anchor="middle" font-weight="normal" >6</text>
<text transform="translate(546.37 189.8) scale(1 1.05)" font-size="10.5" fill="#111" text-anchor="middle" font-weight="normal" >8</text>
<text transform="translate(586.01 189.8) scale(1 1.05)" font-size="10.5" fill="#111" text-anchor="middle" font-weight="normal" >10</text>
<text transform="translate(625.66 189.8) scale(1 1.05)" font-size="10.5" fill="#111" text-anchor="middle" font-weight="normal" >12</text>
<text transform="translate(665.3 189.8) scale(1 1.05)" font-size="10.5" fill="#111" text-anchor="middle" font-weight="normal" >14</text>
<text transform="translate(487.8 209.2) scale(1 1.05)" font-size="10.5" fill="#111" text-anchor="start" font-weight="normal" >Years after SRT</text>
<text x="0" y="0" font-size="10.5" fill="#111" text-anchor="middle" transform="translate(355.8 97.3) rotate(-90) scale(1 1.05)">Free from progression</text>
<text transform="translate(346.6 12.9) scale(1 1.05)" font-size="15.8" fill="#000" text-anchor="start" font-weight="bold" >b</text>
<text transform="translate(32.8 407) scale(1 1.05)" font-size="10.5" fill="#111" text-anchor="end" font-weight="normal" >0</text>
<text transform="translate(32.8 377) scale(1 1.05)" font-size="10.5" fill="#111" text-anchor="end" font-weight="normal" >0,2</text>
<text transform="translate(32.8 347) scale(1 1.05)" font-size="10.5" fill="#111" text-anchor="end" font-weight="normal" >0,4</text>
<text transform="translate(32.8 317) scale(1 1.05)" font-size="10.5" fill="#111" text-anchor="end" font-weight="normal" >0,6</text>
<text transform="translate(32.8 287) scale(1 1.05)" font-size="10.5" fill="#111" text-anchor="end" font-weight="normal" >0,8</text>
<text transform="translate(32.8 257) scale(1 1.05)" font-size="10.5" fill="#111" text-anchor="end" font-weight="normal" >1</text>
<text transform="translate(42.1 419.2) scale(1 1.05)" font-size="10.5" fill="#111" text-anchor="middle" font-weight="normal" >0</text>
<text transform="translate(81.17 419.2) scale(1 1.05)" font-size="10.5" fill="#111" text-anchor="middle" font-weight="normal" >2</text>
<text transform="translate(120.24 419.2) scale(1 1.05)" font-size="10.5" fill="#111" text-anchor="middle" font-weight="normal" >4</text>
<text transform="translate(159.31 419.2) scale(1 1.05)" font-size="10.5" fill="#111" text-anchor="middle" font-weight="normal" >6</text>
<text transform="translate(198.39 419.2) scale(1 1.05)" font-size="10.5" fill="#111" text-anchor="middle" font-weight="normal" >8</text>
<text transform="translate(237.46 419.2) scale(1 1.05)" font-size="10.5" fill="#111" text-anchor="middle" font-weight="normal" >10</text>
<text transform="translate(276.53 419.2) scale(1 1.05)" font-size="10.5" fill="#111" text-anchor="middle" font-weight="normal" >12</text>
<text transform="translate(315.6 419.2) scale(1 1.05)" font-size="10.5" fill="#111" text-anchor="middle" font-weight="normal" >14</text>
<text transform="translate(140.6 438) scale(1 1.05)" font-size="10.5" fill="#111" text-anchor="start" font-weight="normal" >Years after SRT</text>
<text x="0" y="0" font-size="10.5" fill="#111" text-anchor="middle" transform="translate(10 327.6) rotate(-90) scale(1 1.05)">Free from progression</text>
<text transform="translate(2.4 242.3) scale(1 1.05)" font-size="15.8" fill="#000" text-anchor="start" font-weight="bold" >c</text>
<text transform="translate(378.6 406.7) scale(1 1.05)" font-size="10.5" fill="#111" text-anchor="end" font-weight="normal" >0</text>
<text transform="translate(378.6 376.36) scale(1 1.05)" font-size="10.5" fill="#111" text-anchor="end" font-weight="normal" >0,2</text>
<text transform="translate(378.6 346.02) scale(1 1.05)" font-size="10.5" fill="#111" text-anchor="end" font-weight="normal" >0,4</text>
<text transform="translate(378.6 315.68) scale(1 1.05)" font-size="10.5" fill="#111" text-anchor="end" font-weight="normal" >0,6</text>
<text transform="translate(378.6 285.34) scale(1 1.05)" font-size="10.5" fill="#111" text-anchor="end" font-weight="normal" >0,8</text>
<text transform="translate(378.6 255) scale(1 1.05)" font-size="10.5" fill="#111" text-anchor="end" font-weight="normal" >1</text>
<text transform="translate(387.6 419.2) scale(1 1.05)" font-size="10.5" fill="#111" text-anchor="middle" font-weight="normal" >0</text>
<text transform="translate(427.17 419.2) scale(1 1.05)" font-size="10.5" fill="#111" text-anchor="middle" font-weight="normal" >2</text>
<text transform="translate(466.74 419.2) scale(1 1.05)" font-size="10.5" fill="#111" text-anchor="middle" font-weight="normal" >4</text>
<text transform="translate(506.31 419.2) scale(1 1.05)" font-size="10.5" fill="#111" text-anchor="middle" font-weight="normal" >6</text>
<text transform="translate(545.89 419.2) scale(1 1.05)" font-size="10.5" fill="#111" text-anchor="middle" font-weight="normal" >8</text>
<text transform="translate(585.46 419.2) scale(1 1.05)" font-size="10.5" fill="#111" text-anchor="middle" font-weight="normal" >10</text>
<text transform="translate(625.03 419.2) scale(1 1.05)" font-size="10.5" fill="#111" text-anchor="middle" font-weight="normal" >12</text>
<text transform="translate(664.6 419.2) scale(1 1.05)" font-size="10.5" fill="#111" text-anchor="middle" font-weight="normal" >14</text>
<text transform="translate(487.8 438.6) scale(1 1.05)" font-size="10.5" fill="#111" text-anchor="start" font-weight="normal" >Years after SRT</text>
<text x="0" y="0" font-size="10.5" fill="#111" text-anchor="middle" transform="translate(355.8 326.2) rotate(-90) scale(1 1.05)">Free from progression</text>
<text transform="translate(347.6 242.5) scale(1 1.05)" font-size="15.8" fill="#000" text-anchor="start" font-weight="bold" >d</text>
<text transform="translate(207 635.9) scale(1 1.05)" font-size="10.5" fill="#111" text-anchor="end" font-weight="normal" >0</text>
<text transform="translate(207 605.98) scale(1 1.05)" font-size="10.5" fill="#111" text-anchor="end" font-weight="normal" >0,2</text>
<text transform="translate(207 576.06) scale(1 1.05)" font-size="10.5" fill="#111" text-anchor="end" font-weight="normal" >0,4</text>
<text transform="translate(207 546.14) scale(1 1.05)" font-size="10.5" fill="#111" text-anchor="end" font-weight="normal" >0,6</text>
<text transform="translate(207 516.22) scale(1 1.05)" font-size="10.5" fill="#111" text-anchor="end" font-weight="normal" >0,8</text>
<text transform="translate(207 486.3) scale(1 1.05)" font-size="10.5" fill="#111" text-anchor="end" font-weight="normal" >1</text>
<text transform="translate(215.6 647.8) scale(1 1.05)" font-size="10.5" fill="#111" text-anchor="middle" font-weight="normal" >0</text>
<text transform="translate(254.77 647.8) scale(1 1.05)" font-size="10.5" fill="#111" text-anchor="middle" font-weight="normal" >2</text>
<text transform="translate(293.94 647.8) scale(1 1.05)" font-size="10.5" fill="#111" text-anchor="middle" font-weight="normal" >4</text>
<text transform="translate(333.11 647.8) scale(1 1.05)" font-size="10.5" fill="#111" text-anchor="middle" font-weight="normal" >6</text>
<text transform="translate(372.29 647.8) scale(1 1.05)" font-size="10.5" fill="#111" text-anchor="middle" font-weight="normal" >8</text>
<text transform="translate(411.46 647.8) scale(1 1.05)" font-size="10.5" fill="#111" text-anchor="middle" font-weight="normal" >10</text>
<text transform="translate(450.63 647.8) scale(1 1.05)" font-size="10.5" fill="#111" text-anchor="middle" font-weight="normal" >12</text>
<text transform="translate(489.8 647.8) scale(1 1.05)" font-size="10.5" fill="#111" text-anchor="middle" font-weight="normal" >14</text>
<text transform="translate(314.1 667.2) scale(1 1.05)" font-size="10.5" fill="#111" text-anchor="start" font-weight="normal" >Years after SRT</text>
<text x="0" y="0" font-size="10.5" fill="#111" text-anchor="middle" transform="translate(184.5 557.5) rotate(-90) scale(1 1.05)">Overall survival</text>
<text transform="translate(176.6 474.3) scale(1 1.05)" font-size="15.8" fill="#000" text-anchor="start" font-weight="bold" >e</text>
</svg>
</body></html>
